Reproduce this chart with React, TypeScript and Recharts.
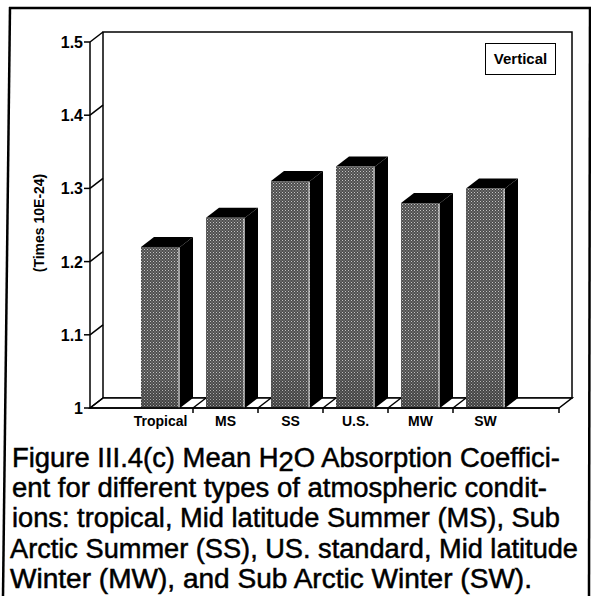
import React from "react";
import { BarChart, Bar, XAxis, YAxis, ReferenceArea, Legend } from "recharts";

// values (front face of each 3D bar)
const categories = ["Tropical", "MS", "SS", "U.S.", "MW", "SW"];
const vertical = [1.22, 1.26, 1.31, 1.33, 1.28, 1.3];
const yTicks = [1, 1.1, 1.2, 1.3, 1.4, 1.5];
const seriesName = "Vertical";
const yLabel = "(Times 10E-24)";
const captionLines = [
  ["Figure III.4(c) Mean H", "2", "O Absorption Coeffici-"],
  ["ent for different types of atmospheric condit-"],
  ["ions: tropical, Mid latitude Summer (MS), Sub"],
  ["Arctic Summer (SS), US. standard, Mid latitude"],
  ["Winter (MW), and Sub Arctic Winter (SW)."],
];
const captionWidths = [548, 535, 548, 568, 522];

const data = categories.map((name, i) => ({ name, value: vertical[i] }));

const FONT = '"Liberation Sans", Arial, Helvetica, sans-serif';
const DX = 13; // depth of the 3D effect
const DY = -10;
const PAD_L = 38;
const PAD_R = 41;

const YTick = (props: any) => {
  const { x, y, payload } = props;
  const v = payload.value;
  return (
    <g>
      <text x={x - 7} y={y + 6} textAnchor="end" fontFamily={FONT} fontWeight="bold" fontSize={16} fill="#000">
        {v === 1 ? "1" : v.toFixed(1)}
      </text>
      <line x1={x - 6} y1={y} x2={x} y2={y} stroke="#000" strokeWidth={1.5} />
      <line x1={x} y1={y} x2={x + DX} y2={y + DY} stroke="#000" strokeWidth={1.5} />
    </g>
  );
};

const XTick = (props: any) => {
  const { x, y, payload, index } = props;
  const b = payload.coordinate + (payload.offset ?? 0);
  const last = index === categories.length - 1;
  return (
    <g>
      <text x={x} y={y + 18} textAnchor="middle" fontFamily={FONT} fontWeight="bold" fontSize={14} fill="#000">
        {payload.value}
      </text>
      {!last && (
        <g stroke="#000" strokeWidth={1.5}>
          <line x1={b} y1={y} x2={b} y2={y + 5} />
          <line x1={b} y1={y} x2={b + DX} y2={y + DY} />
        </g>
      )}
    </g>
  );
};

// back wall + floor of the 3D box (area spans the bands, so add the axis padding back)
const Room = (props: any) => {
  const { y, height } = props;
  const x = props.x - PAD_L;
  const width = props.width + PAD_L + PAD_R;
  const bottom = y + height;
  return (
    <g>
      <defs>
        <pattern id="dots" width="3" height="3" patternUnits="userSpaceOnUse">
          <rect width="3" height="3" fill="#4e4e4e" />
          <rect x="0" y="0" width="1" height="1" fill="#c4c4c4" />
          <rect x="1.5" y="1.5" width="1" height="1" fill="#a4a4a4" />
        </pattern>
        <linearGradient id="shade" x1="0" y1="0" x2="0" y2="1">
          <stop offset="0.8" stopColor="#000" stopOpacity="0" />
          <stop offset="1" stopColor="#000" stopOpacity="0.18" />
        </linearGradient>
      </defs>
      <rect x={x + DX} y={y + DY} width={width} height={height} fill="#fff" stroke="#000" strokeWidth={1.5} />
      <polygon
        points={`${x},${bottom} ${x + width},${bottom} ${x + width + DX},${bottom + DY} ${x + DX},${bottom + DY}`}
        fill="#fff"
        stroke="#000"
        strokeWidth={1.5}
      />
      <line x1={x + width} y1={bottom} x2={x + width} y2={bottom + 5} stroke="#000" strokeWidth={1.5} />
    </g>
  );
};

const Bar3D = (props: any) => {
  const { x, y, width, height } = props;
  const r = x + width;
  const b = y + height;
  return (
    <g>
      <polygon points={`${r},${y} ${r + DX},${y + DY} ${r + DX},${b + DY} ${r},${b}`} fill="#000" />
      <polygon points={`${x},${y} ${x + DX},${y + DY} ${r + DX},${y + DY} ${r},${y}`} fill="#000" />
      <rect x={x} y={y} width={width} height={height} fill="url(#dots)" />
      <rect x={x} y={y} width={width} height={height} fill="url(#shade)" />
      <line x1={r - 1} y1={y + 1} x2={r - 1} y2={b} stroke="#e4e4e4" strokeWidth={1} />
    </g>
  );
};

const LegendBox = () => (
  <div
    style={{
      width: 69,
      height: 30,
      border: "1.5px solid #000",
      fontFamily: FONT,
      fontWeight: "bold",
      fontSize: 15,
      lineHeight: "30px",
      textAlign: "center",
      background: "#fff",
    }}
  >
    {seriesName}
  </div>
);

export default function App() {
  return (
    <div style={{ position: "absolute", left: 0, top: 0, width: 591, height: 596, background: "#fff" }}>
      <div style={{ position: "absolute", left: 0, top: 0 }}>
        <BarChart width={591} height={440} data={data} margin={{ top: 42, right: 32, bottom: 0, left: 0 }}>
          <ReferenceArea y1={1} y2={1.5} ifOverflow="visible" shape={<Room />} />
          <XAxis
            dataKey="name"
            height={32}
            padding={{ left: PAD_L, right: PAD_R }}
            tickLine={false}
            tickSize={0}
            tickMargin={0}
            axisLine={{ stroke: "#000", strokeWidth: 1.5 }}
            tick={<XTick />}
            interval={0}
          />
          <YAxis
            width={90}
            domain={[1, 1.5]}
            ticks={yTicks}
            tickLine={false}
            tickSize={0}
            tickMargin={0}
            axisLine={{ stroke: "#000", strokeWidth: 1.5 }}
            tick={<YTick />}
            label={{
              content: ({ viewBox }: any) => {
                const cx = viewBox.x + 39;
                const cy = viewBox.y + viewBox.height / 2 - 2;
                return (
                  <text
                    x={cx}
                    y={cy}
                    transform={`rotate(-90 ${cx} ${cy})`}
                    textAnchor="middle"
                    dominantBaseline="central"
                    fontFamily={FONT}
                    fontWeight="bold"
                    fontSize={14}
                    fill="#000"
                  >
                    {yLabel}
                  </text>
                );
              },
            }}
          />
          <Legend
            layout="vertical"
            align="center"
            verticalAlign="middle"
            content={<LegendBox />}
            wrapperStyle={{ position: "absolute", top: 43, left: 485, width: 72 }}
          />
          <Bar dataKey="value" name={seriesName} barSize={39} shape={<Bar3D />} isAnimationActive={false} />
        </BarChart>
      </div>
      <svg width={591} height={596} style={{ position: "absolute", left: 0, top: 0, pointerEvents: "none" }}>
        <g stroke="#000" strokeWidth={2.5}>
          <line x1={9} y1={8} x2={591} y2={8} />
          <line x1={10} y1={7} x2={3} y2={596} />
          <line x1={590} y1={8} x2={589} y2={596} />
        </g>
        {captionLines.map((parts, i) => (
          <text
            key={i}
            x={i < 3 ? 12 : 10}
            y={467 + i * 30.2}
            fontFamily={FONT}
            fontSize={27}
            fill="#000"
            stroke="#000"
            strokeWidth={0.5}
            textLength={captionWidths[i]}
            lengthAdjust="spacingAndGlyphs"
          >
            {parts.length === 1 ? (
              parts[0]
            ) : (
              <>
                {parts[0]}
                <tspan dy={4}>{parts[1]}</tspan>
                <tspan dy={-4}>{parts[2]}</tspan>
              </>
            )}
          </text>
        ))}
      </svg>
    </div>
  );
}
